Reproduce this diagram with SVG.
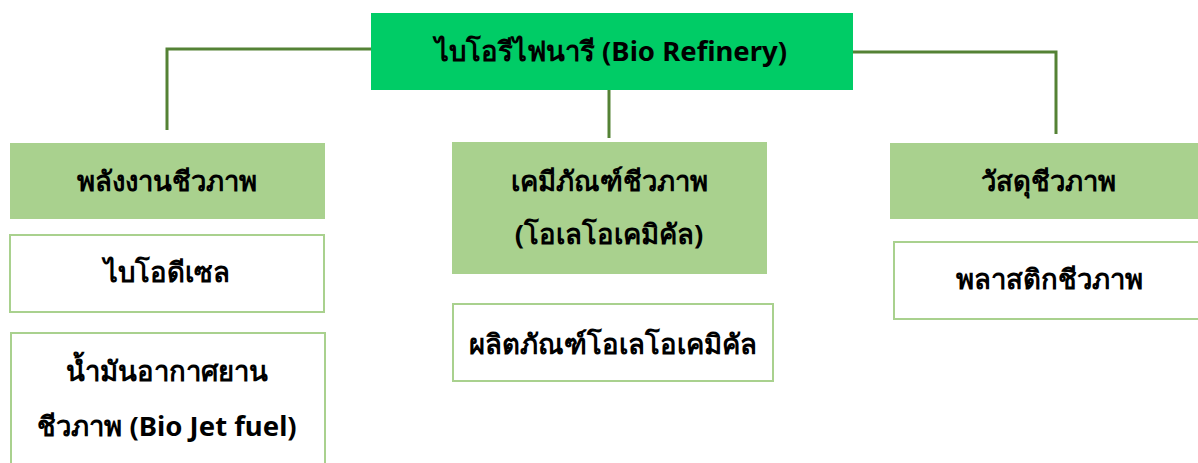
<svg xmlns="http://www.w3.org/2000/svg" width="1198" height="463" viewBox="0 0 1198 463">
<style>
.root{fill:#00CC66}
.hdr{fill:#A9D18E}
.item{fill:#FFFFFF;stroke:#A9D18E;stroke-width:2}
.con{fill:none;stroke:#548235;stroke-width:3}
text{font-family:"Noto Sans","DejaVu Sans",sans-serif;font-size:27.5px;font-weight:bold;fill:#000;text-anchor:middle}
</style>
<rect width="1198" height="463" fill="#FFFFFF"/>
<g id="connectors">
<polyline class="con" points="371,49 167,49 167,130"/>
<polyline class="con" points="853,52 1056,52 1056,134"/>
<line class="con" x1="609" y1="89" x2="609" y2="138"/>
</g>
<g id="root">
<rect class="root" x="371" y="13" width="482" height="77"/>
<text x="611" y="61">ไบโอรีไฟนารี (Bio Refinery)</text>
</g>
<g id="energy">
<rect class="hdr" x="10" y="143" width="315" height="76"/>
<text x="167" y="191">พลังงานชีวภาพ</text>
</g>
<g id="biodiesel">
<rect class="item" x="10" y="235" width="314" height="77"/>
<text x="167" y="282">ไบโอดีเซล</text>
</g>
<g id="biojet">
<rect class="item" x="11" y="333" width="314" height="140"/>
<text x="167" y="381">น้ำมันอากาศยาน</text>
<text x="167" y="436">ชีวภาพ (Bio Jet fuel)</text>
</g>
<g id="chem">
<rect class="hdr" x="452" y="142" width="315" height="132"/>
<text x="609" y="191">เคมีภัณฑ์ชีวภาพ</text>
<text x="609" y="244">(โอเลโอเคมิคัล)</text>
</g>
<g id="oleo">
<rect class="item" x="453" y="304" width="320" height="77"/>
<text x="613" y="354">ผลิตภัณฑ์โอเลโอเคมิคัล</text>
</g>
<g id="material">
<rect class="hdr" x="890" y="143" width="320" height="76"/>
<text x="1048" y="191">วัสดุชีวภาพ</text>
</g>
<g id="plastic">
<rect class="item" x="894" y="242" width="320" height="77"/>
<text x="1049" y="289">พลาสติกชีวภาพ</text>
</g>
</svg>
